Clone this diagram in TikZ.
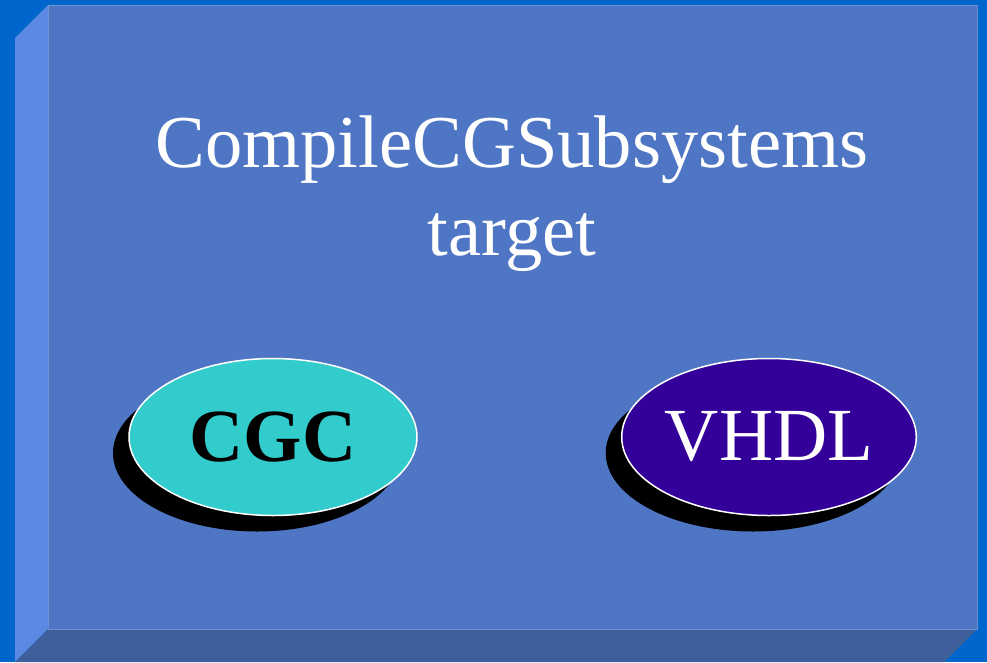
\documentclass[tikz,border=0pt]{standalone}
\usepackage{fontspec}
\setmainfont{Liberation Serif}
\usetikzlibrary{shapes.geometric,shadows}
\definecolor{Back}{HTML}{0066CC}
\definecolor{Face}{HTML}{4F76C4}
\definecolor{LeftSide}{HTML}{5B88E2}
\definecolor{BottomSide}{HTML}{3F5E9C}
\definecolor{CgcFill}{HTML}{33CCCC}
\definecolor{VhdlFill}{HTML}{330099}
\tikzset{
	lang/.style={ellipse,draw=white,line width=1.5pt,inner sep=0pt,
		minimum width=288pt,minimum height=157pt,
		drop shadow={shadow xshift=-16pt,shadow yshift=-16pt,fill=black,opacity=1}},
	title/.style={text=white,align=center,font=\fontsize{74.6}{88}\selectfont}
}
\begin{document}
\begin{tikzpicture}[x=1pt,y=-1pt]
%% Page
\fill[Back] (0,0) rectangle (987,662);
\useasboundingbox (0,0) rectangle (987,662);
%% Box: sides then face
\def\a{48}
\def\b{5}
\def\d{33}
\fill[LeftSide] (\a-\d,\b+\d) -- (\a,\b) -- (\a,629) -- (\a-\d,629+\d) -- cycle;
\fill[BottomSide] (\a-\d,629+\d) -- (\a,629) -- (977,629) -- (977-\d,629+\d) -- cycle;
\draw[fill=Face,draw=Face!80!white,line width=1pt] (\a,\b) rectangle (977,629);
%% Title
\node[title] (target) at (512,194) {CompileCGSubsystems\\target};
%% Languages
\node[lang,fill=CgcFill,font=\fontsize{75}{75}\selectfont\bfseries] (cgc) at (273,437) {CGC};
\node[lang,fill=VhdlFill,text=white,font=\fontsize{75}{75}\selectfont] (vhdl) at (769,437) {VHDL};
\end{tikzpicture}
\end{document}
